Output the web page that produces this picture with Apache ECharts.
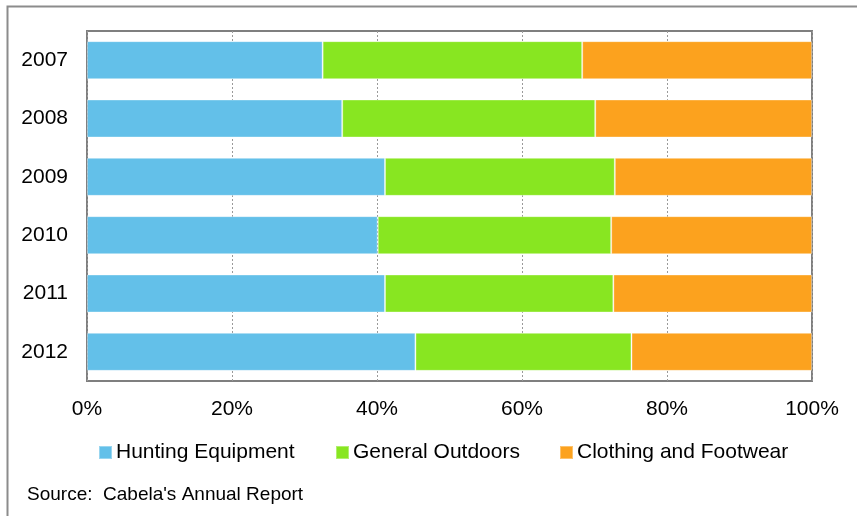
<!DOCTYPE html>
<html>
<head>
<meta charset="utf-8">
<script src="https://cdn.jsdelivr.net/npm/echarts@6/dist/echarts.min.js"></script>
<style>
  html, body { margin: 0; padding: 0; background: #ffffff; }
  #chart { width: 857px; height: 516px; }
</style>
</head>
<body>
<div id="chart"></div>
<script>
// Sales mix by merchandise category, share of total (%)
const years = ['2007', '2008', '2009', '2010', '2011', '2012'];
const hunting = [32.5, 35.2, 41.1, 40.1, 41.1, 45.3];
const outdoors = [35.8, 34.9, 31.7, 32.2, 31.5, 29.8];
const clothing = [31.7, 29.9, 27.2, 27.7, 27.4, 24.9];
const seriesNames = ['Hunting Equipment', 'General Outdoors', 'Clothing and Footwear'];
const seriesColors = ['#63C0E9', '#88E621', '#FCA21E'];
const xTicks = [0, 20, 40, 60, 80, 100];
const sourceNote = "Source:  Cabela's Annual Report";

const FONT = "'Liberation Sans', Arial, sans-serif";
const chart = echarts.init(document.getElementById('chart'));

const values = [hunting, outdoors, clothing];
const legendLeft = [93, 330, 554];

chart.setOption({
  animation: false,
  backgroundColor: '#ffffff',
  textStyle: { fontFamily: FONT },
  grid: {
    left: 87, top: 31, width: 725, height: 350,
    show: true, borderColor: '#7f7f7f', borderWidth: 2,
    backgroundColor: 'transparent'
  },
  xAxis: {
    type: 'value',
    min: xTicks[0], max: xTicks[xTicks.length - 1], interval: 20,
    axisLine: { show: false },
    axisTick: { show: false },
    splitLine: { show: true, lineStyle: { color: '#9a9a9a', width: 1, type: [2, 2] } },
    axisLabel: {
      color: '#000000', fontSize: 21, fontFamily: FONT, margin: 18,
      formatter: v => v + '%'
    }
  },
  yAxis: {
    type: 'category',
    data: years,
    inverse: true,
    axisLine: { show: false },
    axisTick: { show: false },
    splitLine: { show: false },
    axisLabel: { color: '#000000', fontSize: 21, fontFamily: FONT, margin: 19 }
  },
  legend: seriesNames.map((name, i) => ({
    data: [name],
    left: legendLeft[i],
    top: 437,
    itemWidth: 13,
    itemHeight: 13,
    itemGap: 0,
    icon: 'rect',
    textStyle: { color: '#000000', fontSize: 21, fontFamily: FONT, lineHeight: 21, padding: [0, 0, 0, -1] },
    selectedMode: false
  })),
  series: seriesNames.map((name, i) => ({
    name: name,
    type: 'bar',
    stack: 'mix',
    barWidth: 38,
    data: values[i],
    itemStyle: {
      color: seriesColors[i],
      borderColor: 'rgba(255,255,255,0.35)',
      borderWidth: 1
    }
  })),
  graphic: [
    {
      type: 'rect',
      left: 5, top: 4,
      shape: { width: 870, height: 530 },
      style: { fill: 'none', stroke: '#8c8c8c', lineWidth: 2 },
      silent: true, z: 100
    },
    {
      type: 'text',
      left: 27, top: 485,
      style: { text: sourceNote, fill: '#000000', font: '19px ' + FONT },
      silent: true
    }
  ]
});
</script>
</body>
</html>
